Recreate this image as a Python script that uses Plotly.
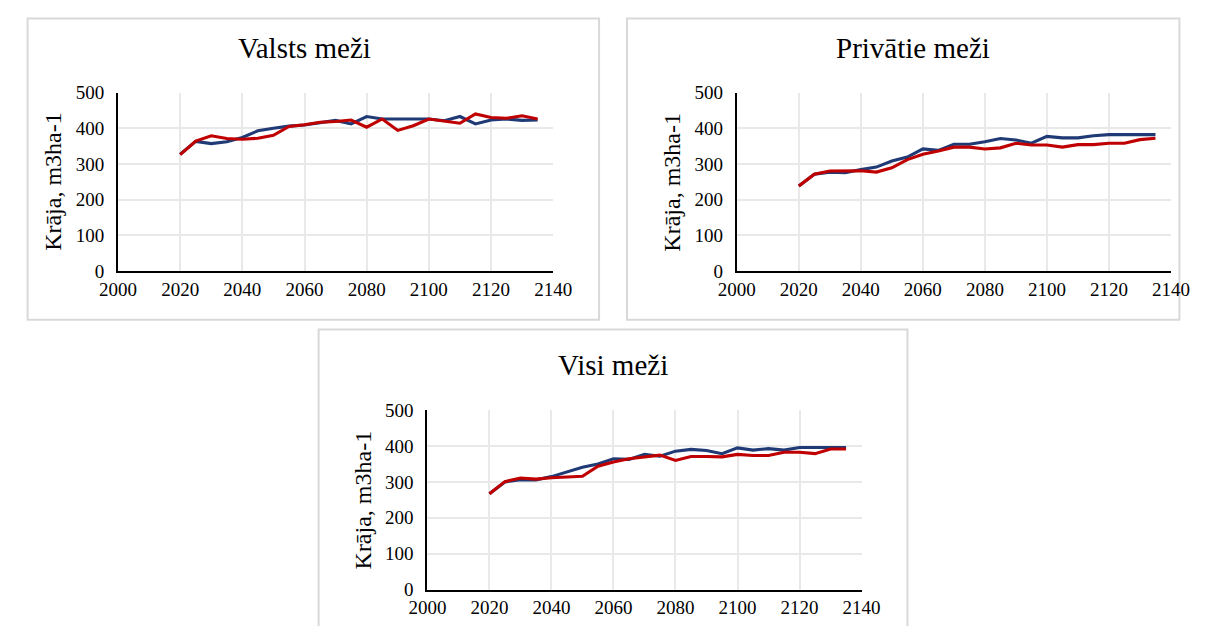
import plotly.graph_objects as go

years = list(range(2020, 2140, 5))

valsts_blue = [327, 363, 357, 362, 374, 393, 400, 406, 409, 415, 422, 412, 433, 426,
               426, 426, 426, 421, 433, 412, 423, 426, 422, 423]
valsts_red = [326, 364, 379, 371, 369, 372, 380, 405, 410, 417, 419, 423, 403, 426,
              394, 407, 426, 421, 414, 440, 430, 428, 435, 426]

priv_blue = [238, 271, 277, 275, 284, 291, 308, 319, 342, 338, 355, 355, 362, 371,
             367, 358, 377, 373, 373, 379, 382, 382, 383, 382]
priv_red = [238, 271, 280, 280, 281, 277, 289, 312, 327, 336, 347, 347, 342, 345,
            358, 353, 353, 347, 354, 354, 358, 358, 368, 372]

visi_blue = [267, 300, 306, 306, 315, 327, 341, 350, 365, 363, 377, 372, 386, 391,
             388, 379, 395, 389, 393, 389, 396, 396, 396, 396]
visi_red = [267, 301, 311, 308, 312, 313, 316, 344, 356, 365, 370, 375, 360, 371,
            371, 370, 377, 374, 374, 383, 383, 379, 392, 392]

titles = ["Valsts meži", "Privātie meži", "Visi meži"]
y_title = "Krāja, m3ha-1"
x_ticks = list(range(2000, 2141, 20))
y_ticks = list(range(0, 501, 100))

# page body keeps its default 8px margin, so the figure is 8px smaller on each side
OFF = 8
W, H = 1207 - 2 * OFF, 634 - 2 * OFF
# observed placement of the figure in the photographed picture
SX0, SY0, K = 25.8, 17.1, 0.97

BLUE = "#1F3A75"
RED = "#C00000"
FONT = "Liberation Serif"

# panel geometry in target picture pixels: plot left/right, plot top/bottom, outer box
panels = [
    dict(px=(117, 553), py=(92, 271), box=(8, 599, 11, 320), title_y=47, closed=True),
    dict(px=(737, 1172), py=(92, 271), box=(627, 1201, 11, 320), title_y=47, closed=True),
    dict(px=(427, 862), py=(411, 591), box=(318, 908, 330, 660), title_y=366, closed=False),
]
series = [(valsts_blue, valsts_red), (priv_blue, priv_red), (visi_blue, visi_red)]


def fx(sx, clamp=False):
    v = (sx - SX0) / K / W
    return min(max(v, 0.6 / W), 1 - 0.6 / W) if clamp else v


def fy(sy, clamp=False):
    v = (H - (sy - SY0) / K) / H
    return min(max(v, 0.6 / H), 1 - 0.6 / H) if clamp else v


def sz(v):
    return v / K


fig = go.Figure()
shapes = []
annotations = []
BOX_LINE = dict(color="#D9D9D9", width=2)

for i, (p, (b, r), t) in enumerate(zip(panels, series, titles)):
    ax = "" if i == 0 else str(i + 1)
    xa = "x" + ax
    ya = "y" + ax
    fig.add_trace(go.Scatter(x=years, y=b, mode="lines", line=dict(color=BLUE, width=sz(3)),
                             xaxis=xa, yaxis=ya, showlegend=False, hoverinfo="skip"))
    fig.add_trace(go.Scatter(x=years, y=r, mode="lines", line=dict(color=RED, width=sz(3)),
                             xaxis=xa, yaxis=ya, showlegend=False, hoverinfo="skip"))
    xd = [fx(p["px"][0]), fx(p["px"][1])]
    yd = [fy(p["py"][1]), fy(p["py"][0])]
    axis_common = dict(showgrid=True, gridcolor="#E9E9E9", gridwidth=sz(1.5),
                       showline=True, linecolor="black", linewidth=sz(2),
                       ticks="", zeroline=False,
                       tickfont=dict(family=FONT, size=19, color="black"))
    fig.layout["xaxis" + ax] = dict(domain=xd, range=[2000, 2140], tickvals=x_ticks,
                                    anchor=ya, ticklabelstandoff=0, **axis_common)
    fig.layout["yaxis" + ax] = dict(domain=yd, range=[0, 500], tickvals=y_ticks,
                                    anchor=xa, ticklabelstandoff=8, **axis_common)
    x0, x1, y0, y1 = p["box"]
    bx0, bx1 = fx(x0, True), fx(x1, True)
    by_top = fy(y0, True)
    if p["closed"]:
        shapes.append(dict(type="rect", xref="paper", yref="paper",
                           x0=bx0, x1=bx1, y0=fy(y1, True), y1=by_top,
                           line=BOX_LINE, layer="below"))
    else:
        # box runs past the bottom of the picture: draw only left, top and right sides
        shapes.append(dict(type="path", xref="paper", yref="paper",
                           path=f"M {bx0} -0.05 L {bx0} {by_top} L {bx1} {by_top} L {bx1} -0.05",
                           line=BOX_LINE, layer="below"))
    annotations.append(dict(text=t, x=fx((x0 + x1) / 2), y=fy(p["title_y"]),
                            xref="paper", yref="paper", showarrow=False,
                            xanchor="center", yanchor="middle",
                            font=dict(family=FONT, size=29, color="black")))
    annotations.append(dict(text=y_title, x=fx(p["px"][0] - 65),
                            y=fy((p["py"][0] + p["py"][1]) / 2),
                            xref="paper", yref="paper", showarrow=False, textangle=-90,
                            xanchor="center", yanchor="middle",
                            font=dict(family=FONT, size=24, color="black")))

fig.update_layout(width=W, height=H, margin=dict(l=0, r=0, t=0, b=0),
                  paper_bgcolor="white", plot_bgcolor="white",
                  shapes=shapes, annotations=annotations)

fig.write_html("out.html", config={"displayModeBar": False})
